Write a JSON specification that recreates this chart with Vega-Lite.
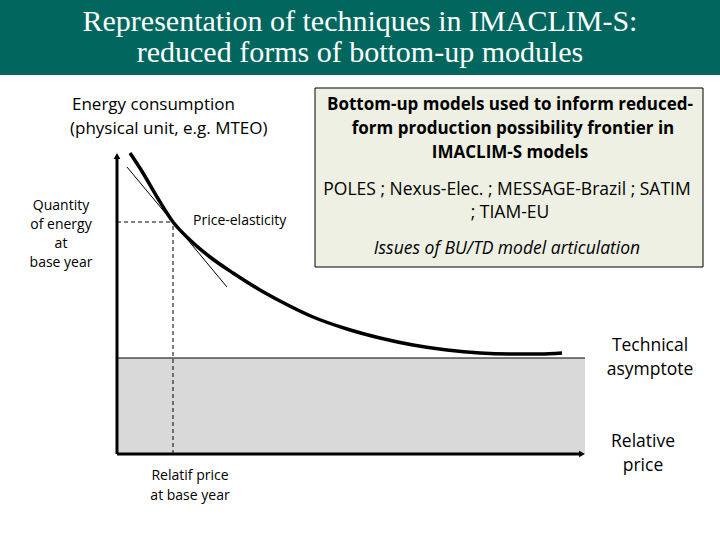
{
  "$schema": "https://vega.github.io/schema/vega-lite/v6.json",
  "width": 720,
  "height": 540,
  "autosize": {"type": "fit", "contains": "padding"},
  "padding": 0,
  "background": "white",
  "config": {"view": {"stroke": null}},
  "datasets": {
    "banner": [{"x": -117, "x2": 603, "y": 379, "y2": 454}],
    "title": [
      {"x": 243, "y": 432, "label": "Representation of techniques in IMACLIM-S:"},
      {"x": 243, "y": 401, "label": "reduced forms of bottom-up modules"}
    ],
    "zone": [{"x": 0, "x2": 468, "y": 0, "y2": 96}],
    "asymptote": [{"x": 0, "x2": 468, "y": 96, "y2": 96}],
    "axes": [
      {"x": 0, "x2": 463, "y": 0, "y2": 0},
      {"x": 0, "x2": 0, "y": 0, "y2": 296}
    ],
    "dashed": [
      {"x": 56, "x2": 56, "y": 0, "y2": 232},
      {"x": 0, "x2": 56, "y": 232, "y2": 232}
    ],
    "arrowUp": [{"x": 0, "y": 298}],
    "arrowRight": [{"x": 465, "y": 0}],
    "curve": [
      {"price": 13, "energy": 301},
      {"price": 26, "energy": 281},
      {"price": 40, "energy": 257},
      {"price": 56, "energy": 232},
      {"price": 73, "energy": 214},
      {"price": 93, "energy": 197},
      {"price": 116, "energy": 181},
      {"price": 143, "energy": 164},
      {"price": 163, "energy": 153},
      {"price": 196, "energy": 137},
      {"price": 230, "energy": 125},
      {"price": 263, "energy": 116},
      {"price": 296, "energy": 109},
      {"price": 330, "energy": 104},
      {"price": 363, "energy": 101},
      {"price": 396, "energy": 100},
      {"price": 423, "energy": 100},
      {"price": 445, "energy": 101}
    ],
    "tangent": [
      {"price": 10, "energy": 287},
      {"price": 110, "energy": 167}
    ],
    "box": [{"x": 198, "x2": 586, "y": 187, "y2": 366}],
    "boxBold": [
      {"x": 393, "y": 349, "label": "Bottom-up models used to inform reduced-"},
      {"x": 396, "y": 325, "label": "form production possibility frontier in"},
      {"x": 393, "y": 301, "label": "IMACLIM-S models"}
    ],
    "boxPlain": [
      {"x": 390, "y": 264, "label": "POLES ; Nexus-Elec. ; MESSAGE-Brazil ; SATIM"},
      {"x": 393, "y": 241, "label": "; TIAM-EU"}
    ],
    "boxItalic": [{"x": 390, "y": 205, "label": "Issues of BU/TD model articulation"}],
    "yTitle": [
      {"x": -45, "y": 349, "label": "Energy consumption"},
      {"x": -47, "y": 325, "label": "(physical unit, e.g. MTEO)"}
    ],
    "smallCenter": [
      {"x": -56, "y": 248, "label": "Quantity"},
      {"x": -56, "y": 229, "label": "of energy"},
      {"x": -56, "y": 210, "label": "at"},
      {"x": -56, "y": 191, "label": "base year"},
      {"x": 73, "y": -22, "label": "Relatif price"},
      {"x": 73, "y": -42, "label": "at base year"}
    ],
    "smallLeft": [{"x": 76, "y": 233, "label": "Price-elasticity"}],
    "bigCenter": [
      {"x": 533, "y": 108, "label": "Technical"},
      {"x": 533, "y": 84, "label": "asymptote"},
      {"x": 526, "y": 12, "label": "Relative"},
      {"x": 526, "y": -12, "label": "price"}
    ]
  },
  "layer": [
    {
      "data": {"name": "banner"},
      "mark": {"type": "rect", "color": "#00665E"},
      "encoding": {
        "x": {"field": "x", "type": "quantitative", "scale": {"domain": [-117, 603], "nice": false, "zero": false}, "axis": null},
        "x2": {"field": "x2"},
        "y": {"field": "y", "type": "quantitative", "scale": {"domain": [-86, 454], "nice": false, "zero": false}, "axis": null},
        "y2": {"field": "y2"}
      }
    },
    {
      "data": {"name": "title"},
      "mark": {"type": "text", "font": "Liberation Serif", "fontSize": 30, "color": "white", "align": "center", "baseline": "middle"},
      "encoding": {
        "x": {"field": "x", "type": "quantitative"},
        "y": {"field": "y", "type": "quantitative"},
        "text": {"field": "label"}
      }
    },
    {
      "data": {"name": "zone"},
      "mark": {"type": "rect", "color": "#D9D9D9"},
      "encoding": {
        "x": {"field": "x", "type": "quantitative"},
        "x2": {"field": "x2"},
        "y": {"field": "y", "type": "quantitative"},
        "y2": {"field": "y2"}
      }
    },
    {
      "data": {"name": "asymptote"},
      "mark": {"type": "rule", "color": "black", "strokeWidth": 1},
      "encoding": {
        "x": {"field": "x", "type": "quantitative"},
        "x2": {"field": "x2"},
        "y": {"field": "y", "type": "quantitative"},
        "y2": {"field": "y2"}
      }
    },
    {
      "data": {"name": "dashed"},
      "mark": {"type": "rule", "color": "black", "strokeWidth": 1, "strokeDash": [4, 3]},
      "encoding": {
        "x": {"field": "x", "type": "quantitative"},
        "x2": {"field": "x2"},
        "y": {"field": "y", "type": "quantitative"},
        "y2": {"field": "y2"}
      }
    },
    {
      "data": {"name": "axes"},
      "mark": {"type": "rule", "color": "black", "strokeWidth": 3},
      "encoding": {
        "x": {"field": "x", "type": "quantitative"},
        "x2": {"field": "x2"},
        "y": {"field": "y", "type": "quantitative"},
        "y2": {"field": "y2"}
      }
    },
    {
      "data": {"name": "arrowUp"},
      "mark": {"type": "point", "shape": "triangle-up", "filled": true, "color": "black", "size": 45, "opacity": 1},
      "encoding": {
        "x": {"field": "x", "type": "quantitative"},
        "y": {"field": "y", "type": "quantitative"}
      }
    },
    {
      "data": {"name": "arrowRight"},
      "mark": {"type": "point", "shape": "triangle-right", "filled": true, "color": "black", "size": 45, "opacity": 1},
      "encoding": {
        "x": {"field": "x", "type": "quantitative"},
        "y": {"field": "y", "type": "quantitative"}
      }
    },
    {
      "data": {"name": "tangent"},
      "mark": {"type": "line", "color": "black", "strokeWidth": 1},
      "encoding": {
        "x": {"field": "price", "type": "quantitative"},
        "y": {"field": "energy", "type": "quantitative"}
      }
    },
    {
      "data": {"name": "curve"},
      "mark": {"type": "line", "color": "black", "strokeWidth": 3.5, "interpolate": "monotone"},
      "encoding": {
        "x": {"field": "price", "type": "quantitative"},
        "y": {"field": "energy", "type": "quantitative"}
      }
    },
    {
      "data": {"name": "box"},
      "mark": {"type": "rect", "color": "#EEF0E3", "stroke": "black", "strokeWidth": 1},
      "encoding": {
        "x": {"field": "x", "type": "quantitative"},
        "x2": {"field": "x2"},
        "y": {"field": "y", "type": "quantitative"},
        "y2": {"field": "y2"}
      }
    },
    {
      "data": {"name": "boxBold"},
      "mark": {"type": "text", "font": "Open Sans", "fontSize": 17, "fontWeight": "bold", "color": "black", "align": "center", "baseline": "middle"},
      "encoding": {
        "x": {"field": "x", "type": "quantitative"},
        "y": {"field": "y", "type": "quantitative"},
        "text": {"field": "label"}
      }
    },
    {
      "data": {"name": "boxPlain"},
      "mark": {"type": "text", "font": "Open Sans", "fontSize": 17.5, "color": "black", "align": "center", "baseline": "middle"},
      "encoding": {
        "x": {"field": "x", "type": "quantitative"},
        "y": {"field": "y", "type": "quantitative"},
        "text": {"field": "label"}
      }
    },
    {
      "data": {"name": "boxItalic"},
      "mark": {"type": "text", "font": "Open Sans", "fontSize": 17.5, "fontStyle": "italic", "color": "black", "align": "center", "baseline": "middle"},
      "encoding": {
        "x": {"field": "x", "type": "quantitative"},
        "y": {"field": "y", "type": "quantitative"},
        "text": {"field": "label"}
      }
    },
    {
      "data": {"name": "yTitle"},
      "mark": {"type": "text", "font": "Open Sans", "fontSize": 17, "color": "black", "align": "left", "baseline": "middle"},
      "encoding": {
        "x": {"field": "x", "type": "quantitative"},
        "y": {"field": "y", "type": "quantitative"},
        "text": {"field": "label"}
      }
    },
    {
      "data": {"name": "smallCenter"},
      "mark": {"type": "text", "font": "Open Sans", "fontSize": 14, "color": "black", "align": "center", "baseline": "middle"},
      "encoding": {
        "x": {"field": "x", "type": "quantitative"},
        "y": {"field": "y", "type": "quantitative"},
        "text": {"field": "label"}
      }
    },
    {
      "data": {"name": "smallLeft"},
      "mark": {"type": "text", "font": "Open Sans", "fontSize": 14, "color": "black", "align": "left", "baseline": "middle"},
      "encoding": {
        "x": {"field": "x", "type": "quantitative"},
        "y": {"field": "y", "type": "quantitative"},
        "text": {"field": "label"}
      }
    },
    {
      "data": {"name": "bigCenter"},
      "mark": {"type": "text", "font": "Open Sans", "fontSize": 17.5, "color": "black", "align": "center", "baseline": "middle"},
      "encoding": {
        "x": {"field": "x", "type": "quantitative"},
        "y": {"field": "y", "type": "quantitative"},
        "text": {"field": "label"}
      }
    }
  ]
}
